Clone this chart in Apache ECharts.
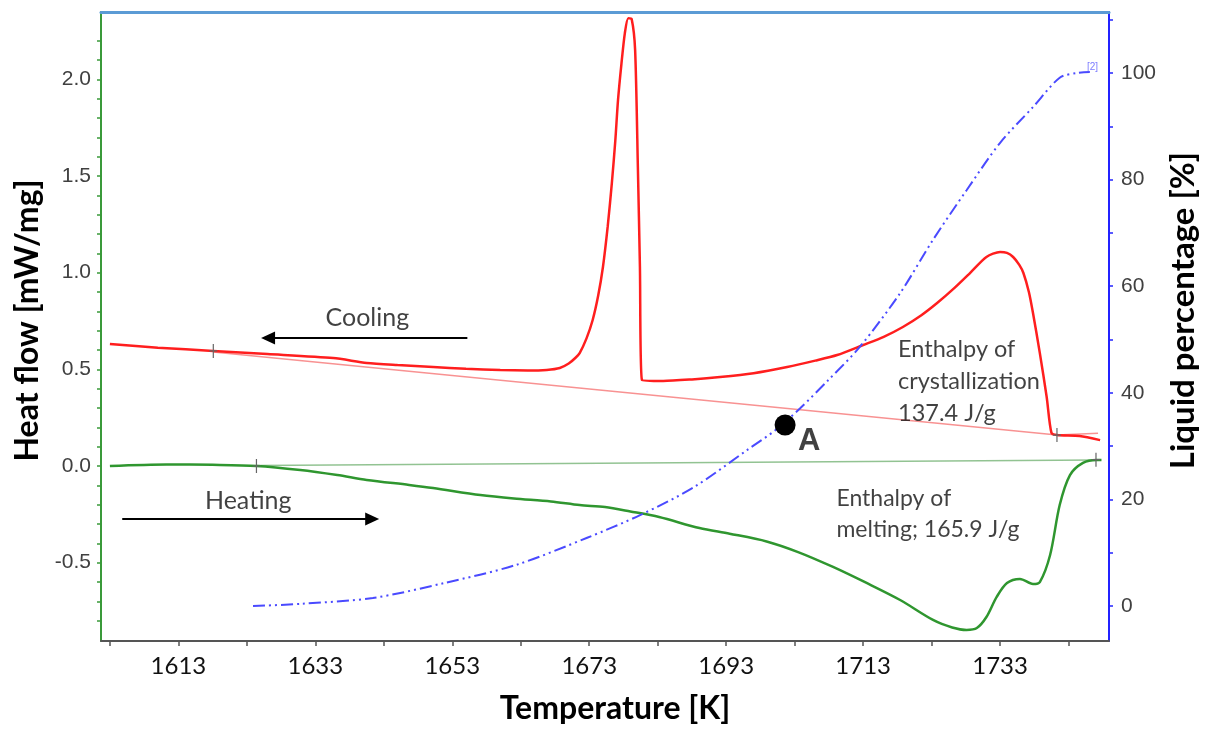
<!DOCTYPE html>
<html><head><meta charset="utf-8">
<script src="https://cdn.jsdelivr.net/npm/echarts@6.0.0/dist/echarts.min.js"></script>
<style>html,body{margin:0;padding:0;background:#fff;} #c{width:1213px;height:731px;}</style>
</head><body><div id="c"></div>
<script>
// ---- axis ticks / labels ----
const xTickValues = [1603,1613,1623,1633,1643,1653,1663,1673,1683,1693,1703,1713,1723,1733,1743];
const xLabelValues = [1613,1633,1653,1673,1693,1713,1733];
const hfTickValues = [-0.8,-0.7,-0.6,-0.5,-0.4,-0.3,-0.2,-0.1,0,0.1,0.2,0.3,0.4,0.5,0.6,0.7,0.8,0.9,1.0,1.1,1.2,1.3,1.4,1.5,1.6,1.7,1.8,1.9,2.0,2.1,2.2];
const hfLabelValues = [-0.5,0,0.5,1.0,1.5,2.0];
const pctTickValues = [0,10,20,30,40,50,60,70,80,90,100,110];
const pctLabelValues = [0,20,40,60,80,100];

// ---- data: [Temperature K, Heat flow mW/mg] ----
const coolingCurve = [
  [1603.0,0.631],[1610.0,0.612],[1618.1,0.595],[1626.0,0.579],[1635.6,0.558],[1640.5,0.533],
  [1645.0,0.522],[1650.2,0.512],[1655.0,0.503],[1660.0,0.496],[1664.0,0.494],[1666.8,0.497],
  [1668.7,0.507],[1670.0,0.530],[1671.0,0.560],[1671.6,0.584],[1672.6,0.660],[1673.5,0.755],
  [1674.3,0.880],[1675.0,1.029],[1675.7,1.240],[1676.3,1.463],[1676.8,1.680],[1677.2,1.892],
  [1677.7,2.080],[1678.2,2.239],[1678.7,2.316],[1679.2,2.311],[1679.7,2.151],[1680.1,1.546],
  [1680.4,1.029],[1680.7,0.445],[1683.8,0.440],[1688.0,0.448],[1692.1,0.460],[1697.0,0.480],
  [1701.9,0.512],[1706.0,0.545],[1709.2,0.574],[1713.0,0.626],[1716.0,0.668],[1718.8,0.719],
  [1721.5,0.780],[1723.8,0.843],[1726.3,0.920],[1728.6,0.998],[1731.0,1.081],[1733.0,1.107],
  [1734.0,1.102],[1734.9,1.081],[1735.8,1.040],[1736.4,0.998],[1737.2,0.900],[1737.8,0.791],
  [1738.8,0.584],[1739.8,0.357],[1740.5,0.171],[1741.3,0.160],[1744.6,0.155],[1747.6,0.134]
];
const coolingBaseline = [[1618.1,0.590],[1741.3,0.160],[1747.3,0.170]];

const heatingCurve = [
  [1603.0,0.000],[1611.3,0.008],[1618.0,0.006],[1624.4,0.000],[1630.8,-0.021],[1636.2,-0.047],
  [1640.5,-0.072],[1646.7,-0.098],[1650.2,-0.114],[1657.1,-0.150],[1662.0,-0.168],[1667.4,-0.183],
  [1671.6,-0.202],[1675.3,-0.212],[1679.0,-0.235],[1683.2,-0.264],[1689.1,-0.321],[1693.5,-0.350],
  [1698.9,-0.390],[1703.5,-0.445],[1708.6,-0.522],[1713.5,-0.605],[1718.4,-0.693],[1723.2,-0.796],
  [1726.0,-0.835],[1728.1,-0.848],[1729.6,-0.838],[1731.0,-0.781],[1732.5,-0.677],[1734.0,-0.605],
  [1735.9,-0.584],[1737.8,-0.610],[1738.8,-0.600],[1740.3,-0.460],[1741.7,-0.202],[1743.2,-0.047],
  [1745.1,0.016],[1747.1,0.031],[1747.8,0.031]
];
const heatingBaseline = [[1624.4,0.002],[1747.0,0.031]];

// ---- data: [Temperature K, Liquid percentage %] ----
const liquidCurve = [
  [1623.9,0.0],[1630.9,0.4],[1641.4,1.5],[1651.8,4.3],[1662.3,7.7],[1672.7,12.8],[1680.5,17.1],
  [1688.3,22.3],[1696.1,29.3],[1700.2,33.0],[1703.8,37.1],[1708.0,42.5],[1712.5,48.6],[1718.4,58.7],
  [1723.2,68.7],[1728.1,78.0],[1733.0,86.9],[1737.8,93.6],[1741.7,99.1],[1744.2,100.0],[1746.1,100.2]
];

// evaluation markers (start / end of integration)
const integrationMarks = [[1618.1,0.595],[1741.3,0.160],[1624.4,0.000],[1747.0,0.033]];
const pointA = [1701.6,0.212];

// annotations
const coolingArrow = [[1655.2,0.662],[1626.1,0.662]];
const heatingArrow = [[1604.8,-0.274],[1641.3,-0.274]];
const annotations = [
  {pos:[1640.6,0.765], text:'Cooling', align:'center', va:'middle', size:25, weight:'normal'},
  {pos:[1623.2,-0.181], text:'Heating', align:'center', va:'middle', size:25, weight:'normal'},
  {pos:[1718.1,0.684], text:'Enthalpy of\ncrystallization\n137.4 J/g', align:'left', va:'top', size:23.5, weight:'normal'},
  {pos:[1709.1,-0.088], text:'Enthalpy of\nmelting; 165.9 J/g', align:'left', va:'top', size:23, weight:'normal'},
  {pos:[1703.5,0.128], text:'A', align:'left', va:'middle', size:31, weight:'bold'}
];
const seriesTag = {pos:[1746.5,101.1], text:'[2]'};

const chart = echarts.init(document.getElementById('c'), null, {renderer:'canvas'});
const numFamily = "'Liberation Sans', Arial, sans-serif";
const axisNumFont = {fontFamily:numFamily, fontSize:21, color:'#404040'};
const titleFont = {fontFamily:'Lato, sans-serif', fontSize:32, fontWeight:'bold', color:'#000'};

chart.setOption({
  animation:false,
  backgroundColor:'#fff',
  grid:{left:101, right:104, top:12, bottom:90, containLabel:false},
  xAxis:[{
    type:'value', min:1601.7, max:1748.9, position:'bottom',
    name:'Temperature [K]', nameLocation:'middle', nameGap:52,
    nameTextStyle:Object.assign({}, titleFont, {padding:[0,0,0,20]}),
    axisLine:{show:true, onZero:false, lineStyle:{color:'#555', width:2}},
    axisTick:{show:true, length:5, inside:false, customValues:xTickValues, lineStyle:{color:'#555', width:1.5}},
    axisLabel:{show:true, customValues:xLabelValues, margin:13, formatter:v=>String(v),
      fontFamily:'Lato, sans-serif', fontSize:24, color:'#111'},
    splitLine:{show:false}
  },{
    type:'value', min:1601.7, max:1748.9, position:'top',
    axisLine:{show:true, onZero:false, lineStyle:{color:'#5b9bd5', width:3}},
    axisTick:{show:false}, axisLabel:{show:false}, splitLine:{show:false}
  }],
  yAxis:[{
    type:'value', min:-0.905, max:2.348, position:'left',
    name:'Heat flow [mW/mg]', nameLocation:'middle', nameGap:53, nameRotate:90,
    nameTextStyle:Object.assign({}, titleFont, {padding:[0,0,0,12]}),
    axisLine:{show:true, onZero:false, lineStyle:{color:'#3a9a3a', width:2}},
    axisTick:{show:true, length:4, customValues:hfTickValues, lineStyle:{color:'#3a9a3a', width:1.5}},
    axisLabel:Object.assign({show:true, customValues:hfLabelValues, margin:10,
      formatter:v=>v.toFixed(1)}, axisNumFont),
    splitLine:{show:false}
  },{
    type:'value', min:-6.57, max:111.44, position:'right',
    name:'Liquid percentage [%]', nameLocation:'middle', nameGap:58, nameRotate:90,
    nameTextStyle:Object.assign({}, titleFont, {fontSize:33, padding:[0,0,0,32]}),
    axisLine:{show:true, onZero:false, lineStyle:{color:'#2323ff', width:2}},
    axisTick:{show:true, length:4, customValues:pctTickValues, lineStyle:{color:'#2323ff', width:1.5}},
    axisLabel:Object.assign({show:true, customValues:pctLabelValues, margin:12}, axisNumFont),
    splitLine:{show:false}
  }],
  series:[
    {type:'line', name:'cooling baseline', data:coolingBaseline, symbol:'none', z:2,
      lineStyle:{color:'rgba(245,110,110,0.75)', width:1.5}},
    {type:'line', name:'heating baseline', data:heatingBaseline, symbol:'none', z:2,
      lineStyle:{color:'rgba(110,175,110,0.75)', width:1.5}},
    {type:'line', name:'Cooling', data:coolingCurve, symbol:'none', smooth:0.25, z:3,
      lineStyle:{color:'#ff1e1e', width:2.5}},
    {type:'line', name:'Heating', data:heatingCurve, symbol:'none', smooth:0.3, z:3,
      lineStyle:{color:'#2f962f', width:2.5}},
    {type:'line', name:'Liquid', data:liquidCurve, yAxisIndex:1, symbol:'none', smooth:0.3, z:3,
      lineStyle:{color:'#4a4aff', width:2, type:[12,4,2,4,2,4]}},
    {type:'scatter', name:'marks', data:integrationMarks, z:4,
      symbol:'path://M3.4,0h1.2v14h-1.2z M0,6.4h8v1.2h-8z', symbolSize:[8,14], symbolKeepAspect:false,
      itemStyle:{color:'#666', opacity:1}},
    {type:'scatter', name:'A', data:[pointA], symbol:'circle', symbolSize:21, z:5,
      itemStyle:{color:'#000', opacity:1}},
    {type:'scatter', name:'tag', yAxisIndex:1, data:[{value:seriesTag.pos}], symbolSize:0, z:5,
      label:{show:true, position:'inside', formatter:seriesTag.text, fontFamily:numFamily,
        fontSize:10, color:'#5a5aff'}},
    {type:'scatter', name:'annotations', symbolSize:0, z:6,
      data:annotations.map(a=>({value:a.pos, label:{show:true, position:'inside', formatter:a.text,
        align:a.align, verticalAlign:a.va, fontSize:a.size, fontWeight:a.weight,
        fontFamily: a.weight==='bold' ? numFamily : 'Lato, sans-serif',
        lineHeight: Math.round(a.size*1.35), color:'#111'}})),
      markLine:{silent:true, symbol:['none','triangle'], symbolSize:[13,14],
        lineStyle:{color:'#000', width:2, type:'solid'}, label:{show:false},
        data:[
          [{coord:coolingArrow[0]},{coord:coolingArrow[1]}],
          [{coord:heatingArrow[0]},{coord:heatingArrow[1]}]
        ]}
    }
  ]
});
</script></body></html>
